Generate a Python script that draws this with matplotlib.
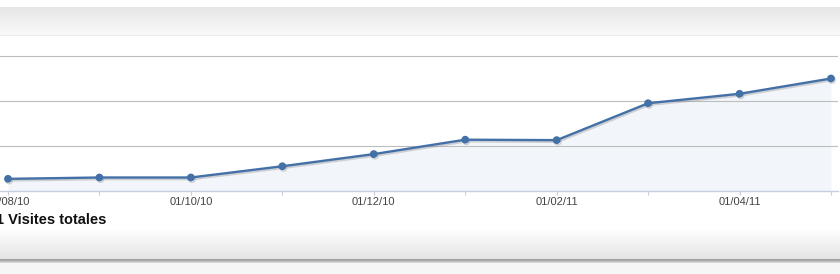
import numpy as np
import matplotlib
matplotlib.use("Agg")
import matplotlib.pyplot as plt
import matplotlib.patheffects as pe

# Données : visites mensuelles (cumul), août 2010 -> mai 2011
mois = ["01/08/10", "01/09/10", "01/10/10", "01/11/10", "01/12/10",
        "01/01/11", "01/02/11", "01/03/11", "01/04/11", "01/05/11"]
visites = [27, 30, 30, 55, 82, 114, 113, 195, 216, 250]
grille_y = [100, 200, 300]
titre_total = "1 Visites totales"

W, H = 840, 274
fig = plt.figure(figsize=(W / 100, H / 100), dpi=100)
plt.rcParams['font.family'] = ['Liberation Sans', 'DejaVu Sans']

# fond : bandeau dégradé en haut, ombre en bas
col = np.ones(H)
col[7:35] = np.linspace(0.905, 0.975, 28)
col[35] = 0.925
col[228:259] = np.linspace(1.0, 0.895, 31)
col[259:263] = [0.62, 0.68, 0.75, 0.85]
col[263:] = 0.965
bg = fig.add_axes([0, 0, 1, 1], zorder=-5)
bg.imshow(np.repeat(col[:, None, None], 3, axis=2), aspect='auto',
          extent=(0, W, H, 0), interpolation='nearest')
bg.set_axis_off()

# zone du graphique
x0_px, x9_px = 8, 831
ppu = (x9_px - x0_px) / (len(mois) - 1)
ax = fig.add_axes([0, (H - 191) / H, 838 / W, (191 - 35) / H])
ax.set_facecolor('none')
ax.set_xlim(-x0_px / ppu, len(mois) - 1 + 7 / ppu)
ax.set_ylim(0, (191 - 35) / 45 * 100)

x = np.arange(len(mois))
for g in grille_y:
    ax.axhline(g, color='#bdbdbd', lw=0.8, zorder=1)

ax.fill_between(x, visites, 0, color='#f2f6fa', zorder=0.5, lw=0)
ax.plot(x, visites, color='#4470a8', lw=1.7, marker='o', ms=4.6,
        zorder=3, clip_on=False,
        path_effects=[pe.SimpleLineShadow(offset=(0.8, -1.2), shadow_color='#888888', alpha=0.35),
                      pe.Normal()])

for s in ['top', 'left', 'right']:
    ax.spines[s].set_visible(False)
ax.spines['bottom'].set_color('#c5cfdf')
ax.spines['bottom'].set_linewidth(1.0)

ax.set_yticks([])
ax.set_xticks(x[::2])
ax.set_xticklabels(mois[::2])
ax.set_xticks(x, minor=True)
ax.tick_params(axis='x', which='both', direction='out', length=3, width=0.8,
               color='#c5cfdf', pad=1.5, labelsize=8, labelcolor='#444444')

fig.text(-4 / W, 1 - 220.5 / H, titre_total, ha='left', va='center',
         fontsize=10.5, fontweight='bold', color='#111111')

fig.savefig('out.png', dpi=100)
